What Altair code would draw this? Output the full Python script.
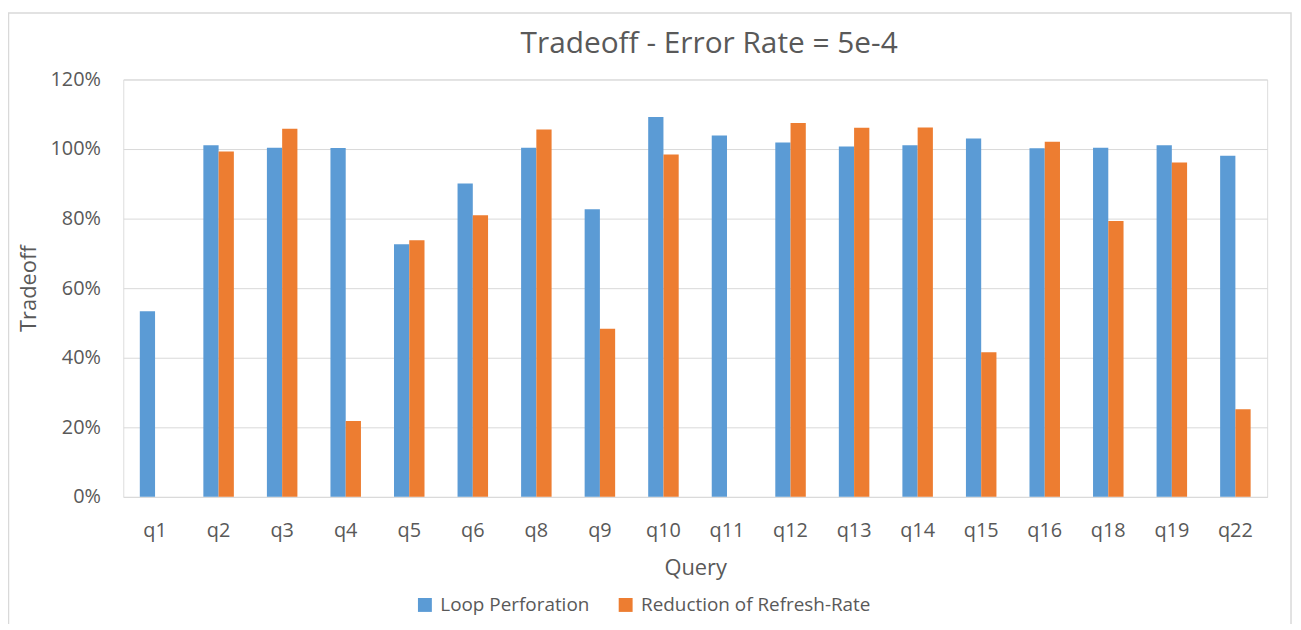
import altair as alt
import pandas as pd

queries = ["q1", "q2", "q3", "q4", "q5", "q6", "q8", "q9", "q10", "q11",
           "q12", "q13", "q14", "q15", "q16", "q18", "q19", "q22"]
loop_perforation = [53.4, 101.1, 100.4, 100.3, 72.6, 90.1, 100.4, 82.7, 109.2,
                    103.9, 101.9, 100.7, 101.1, 103.0, 100.2, 100.4, 101.1, 98.1]
refresh_reduction = [None, 99.3, 105.8, 21.8, 73.8, 81.0, 105.6, 48.3, 98.4,
                     None, 107.5, 106.1, 106.2, 41.6, 102.1, 79.3, 96.1, 25.2]
series_names = ["Loop Perforation", "Reduction of Refresh-Rate"]
series_colors = ["#5B9BD5", "#ED7D31"]
y_ticks = [0, 0.2, 0.4, 0.6, 0.8, 1.0, 1.2]

rows = []
for q, a, b in zip(queries, loop_perforation, refresh_reduction):
    rows.append({"Query": q, "Series": series_names[0], "Value": a / 100})
    rows.append({"Query": q, "Series": series_names[1],
                 "Value": (b / 100) if b is not None else None})
df = pd.DataFrame(rows)

TEXT = "#595959"
FONT = "Open Sans"
GRID = "#d9d9d9"

bars = alt.Chart(df).mark_bar().encode(
    x=alt.X("Query:N", sort=queries,
            scale=alt.Scale(paddingInner=0.52, paddingOuter=0.26),
            axis=alt.Axis(title="Query", labelAngle=0, labelFont=FONT,
                          labelFontSize=20, labelColor=TEXT,
                          labelBaseline="alphabetic", labelPadding=40,
                          ticks=False, domain=False,
                          titleFont=FONT, titleFontSize=22, titleColor=TEXT,
                          titleFontWeight="normal", titleBaseline="alphabetic",
                          titleY=78)),
    xOffset=alt.XOffset("Series:N", sort=series_names,
                        scale=alt.Scale(paddingInner=0, paddingOuter=0)),
    y=alt.Y("Value:Q", scale=alt.Scale(domain=[0, 1.2], nice=False),
            axis=alt.Axis(title="Tradeoff", values=y_ticks, format=".0%",
                          grid=True, gridColor=GRID, gridWidth=1,
                          ticks=False, domain=False, labelFont=FONT,
                          labelFontSize=20, labelColor=TEXT, labelPadding=23,
                          titleFont=FONT, titleFontSize=22, titleColor=TEXT,
                          titleFontWeight="normal", titleBaseline="alphabetic",
                          titleAngle=270, titleAlign="center",
                          titleX=-88, titleY=210)),
    color=alt.Color("Series:N", sort=series_names,
                    scale=alt.Scale(domain=series_names, range=series_colors),
                    legend=alt.Legend(title=None, orient="none",
                                      legendX=294, legendY=519,
                                      direction="horizontal",
                                      symbolType="square", symbolSize=196,
                                      symbolStrokeWidth=0, symbolOpacity=1,
                                      labelFont=FONT, labelFontSize=19,
                                      labelColor=TEXT, labelOffset=6,
                                      labelLimit=500,
                                      columnPadding=27, padding=0)),
)

frame = alt.Chart(pd.DataFrame({"k": [0]})).mark_rect(
    fillOpacity=0, stroke=GRID, strokeWidth=1.5
).encode(
    x=alt.value(-115.5), x2=alt.value(1175),
    y=alt.value(-67), y2=alt.value(700)
)

chart = alt.layer(frame, bars).properties(
    width=1151,
    height=420,
    padding={"left": 116, "top": 70, "right": 26, "bottom": 126},
    autosize=alt.AutoSizeParams(type="none"),
    title=alt.TitleParams(text="Tradeoff - Error Rate = 5e-4", font=FONT,
                          fontSize=30, fontWeight="normal", color=TEXT,
                          anchor="middle", frame="group", baseline="alphabetic",
                          offset=-71, dx=14),
).configure_view(strokeWidth=0).configure(background="white")

chart.save("out.html", embed_options={"renderer": "svg", "actions": False})
